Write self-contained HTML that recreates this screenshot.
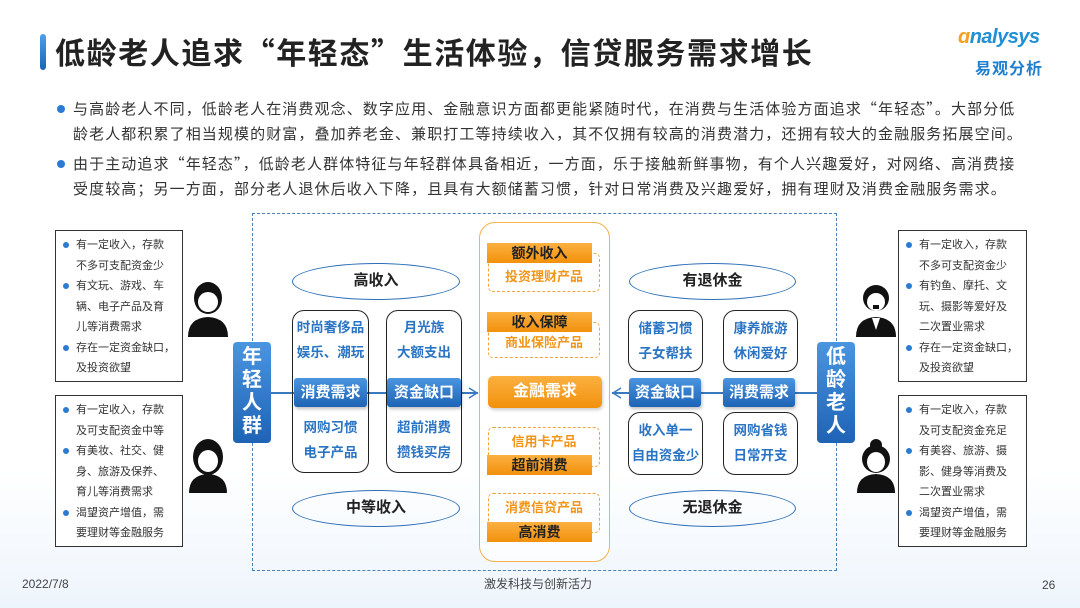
<!DOCTYPE html>
<html><head><meta charset="utf-8"><style>
*{margin:0;padding:0;box-sizing:border-box}
body{width:1080px;height:608px;position:relative;background:#fff;font-family:"Liberation Sans","Noto Sans CJK SC",sans-serif;overflow:hidden;color:#333}
.a{position:absolute}
.bul{position:absolute;left:73px;font-size:15px;line-height:25px;color:#333;font-family:"Noto Sans CJK SC",sans-serif;letter-spacing:1.1px;white-space:nowrap}
.dot{position:absolute;width:8px;height:8px;border-radius:50%;background:#2b7bd3}
.tb{position:absolute;border:1.5px solid #333;background:#fff;font-size:11px;line-height:20.5px;padding:4px 6px 0 20px;color:#333}
.tb p{position:relative}
.tb p.b:before{content:"";position:absolute;left:-13px;top:7px;width:6px;height:6px;border-radius:50%;background:#2b7bd3}
.ell{position:absolute;border:1.5px solid #2e6fb8;border-radius:50%;text-align:center;font-size:15px;font-weight:bold;color:#222}
.rb{position:absolute;border:1.5px solid #222;border-radius:12px;text-align:center;font-size:13.5px;font-weight:bold;color:#2a74c4;line-height:25px}
.bl{position:absolute;background:linear-gradient(#4a95e0,#1e63b5);color:#fff;font-weight:bold;font-size:15px;text-align:center;border-radius:3px;box-shadow:1px 2px 3px rgba(0,0,0,.25)}
.vl{position:absolute;background:linear-gradient(#4a95e0,#1e63b5);color:#fff;font-weight:bold;font-size:20px;line-height:23px;text-align:center;border-radius:4px;padding-top:4px}
.ob{position:absolute;background:linear-gradient(#fbb040,#f2910c);color:#222;font-weight:bold;font-size:14px;text-align:center}
.od{position:absolute;border:1px dashed #f2a33a;border-radius:5px;color:#f2961a;font-size:13px;font-weight:bold;text-align:center}
</style></head><body>
<div class="a" style="left:0;top:470px;width:1080px;height:138px;background:linear-gradient(rgba(225,238,250,0),rgba(225,238,250,.6))"></div>
<div class="a" style="left:40px;top:34px;width:6px;height:36px;background:linear-gradient(#4aa0ee,#1e63b5);border-radius:3px"></div>
<div class="a" style="left:55px;top:32px;font-size:30px;font-weight:bold;color:#222;line-height:38px;font-family:'Noto Sans CJK SC',sans-serif;letter-spacing:1.6px;white-space:nowrap">低龄老人追求“年轻态”生活体验，信贷服务需求增长</div>
<div class="a" style="left:958px;top:26px;font-size:20px;font-style:italic;color:#1f8fd6;font-weight:bold;letter-spacing:-0.5px"><span style="color:#f5a020">ɑ</span>nalysys</div>
<div class="a" style="left:975px;top:55px;font-size:16px;font-weight:bold;color:#1f7fd0;letter-spacing:1px">易观分析</div>

<div class="dot" style="left:57px;top:105px"></div>
<div class="bul" style="top:96px">与高龄老人不同，低龄老人在消费观念、数字应用、金融意识方面都更能紧随时代，在消费与生活体验方面追求“年轻态”。大部分低<br>龄老人都积累了相当规模的财富，叠加养老金、兼职打工等持续收入，其不仅拥有较高的消费潜力，还拥有较大的金融服务拓展空间。</div>
<div class="dot" style="left:57px;top:160px"></div>
<div class="bul" style="top:151px">由于主动追求“年轻态”，低龄老人群体特征与年轻群体具备相近，一方面，乐于接触新鲜事物，有个人兴趣爱好，对网络、高消费接<br>受度较高；另一方面，部分老人退休后收入下降，且具有大额储蓄习惯，针对日常消费及兴趣爱好，拥有理财及消费金融服务需求。</div>

<div class="a" style="left:252px;top:213px;width:585px;height:358px;border:1.2px dashed #4b7fb8"></div>

<div class="tb" style="left:55px;top:230px;width:128px;height:152px"><p class="b">有一定收入，存款</p><p>不多可支配资金少</p><p class="b">有文玩、游戏、车</p><p>辆、电子产品及育</p><p>儿等消费需求</p><p class="b">存在一定资金缺口，</p><p>及投资欲望</p></div>
<div class="tb" style="left:55px;top:395px;width:128px;height:152px"><p class="b">有一定收入，存款</p><p>及可支配资金中等</p><p class="b">有美妆、社交、健</p><p>身、旅游及保养、</p><p>育儿等消费需求</p><p class="b">渴望资产增值，需</p><p>要理财等金融服务</p></div>
<div class="tb" style="left:898px;top:230px;width:129px;height:152px"><p class="b">有一定收入，存款</p><p>不多可支配资金少</p><p class="b">有钓鱼、摩托、文</p><p>玩、摄影等爱好及</p><p>二次置业需求</p><p class="b">存在一定资金缺口，</p><p>及投资欲望</p></div>
<div class="tb" style="left:898px;top:395px;width:129px;height:152px"><p class="b">有一定收入，存款</p><p>及可支配资金充足</p><p class="b">有美容、旅游、摄</p><p>影、健身等消费及</p><p>二次置业需求</p><p class="b">渴望资产增值，需</p><p>要理财等金融服务</p></div>

<svg class="a" style="left:186px;top:280px" width="46" height="58"><ellipse cx="22" cy="18" rx="14" ry="16" fill="#111"/><ellipse cx="22" cy="22" rx="10" ry="10" fill="#fff"/><path d="M2 57 Q2 38 22 37 Q42 38 42 57Z" fill="#111"/></svg>
<svg class="a" style="left:186px;top:437px" width="46" height="58"><ellipse cx="22" cy="20" rx="15" ry="18" fill="#111"/><ellipse cx="22" cy="24" rx="10" ry="11" fill="#fff"/><path d="M12 14 Q22 8 32 18 L32 12 Z" fill="#111"/><path d="M3 56 Q3 38 22 37 Q41 38 41 56Z" fill="#111"/></svg>
<svg class="a" style="left:854px;top:280px" width="46" height="58"><circle cx="22" cy="18" r="13" fill="#111"/><ellipse cx="22" cy="22" rx="9" ry="9" fill="#fff"/><rect x="19" y="25" width="6" height="4" fill="#111"/><path d="M2 57 Q2 38 22 37 Q42 38 42 57Z" fill="#111"/><path d="M18 38 L22 50 L26 38Z" fill="#fff"/></svg>
<svg class="a" style="left:854px;top:437px" width="46" height="58"><circle cx="22" cy="8" r="6" fill="#111"/><ellipse cx="22" cy="22" rx="14" ry="14" fill="#111"/><ellipse cx="22" cy="25" rx="9" ry="10" fill="#fff"/><path d="M3 56 Q3 38 22 37 Q41 38 41 56Z" fill="#111"/></svg>

<div class="a" style="left:271px;top:392px;width:207px;height:1.5px;background:#3a78c0"></div>
<svg class="a" style="left:466px;top:386px" width="14" height="14"><path d="M3 2 L11 7 L3 12" fill="none" stroke="#3a78c0" stroke-width="1.5"/></svg>
<div class="a" style="left:612px;top:392px;width:206px;height:1.5px;background:#3a78c0"></div>
<svg class="a" style="left:610px;top:386px" width="14" height="14"><path d="M11 2 L3 7 L11 12" fill="none" stroke="#3a78c0" stroke-width="1.5"/></svg>

<div class="vl" style="left:233px;top:342px;width:38px;height:101px">年<br>轻<br>人<br>群</div>
<div class="vl" style="left:817px;top:342px;width:38px;height:101px">低<br>龄<br>老<br>人</div>

<div class="ell" style="left:292px;top:263px;width:168px;height:37px;line-height:34px">高收入</div>
<div class="ell" style="left:292px;top:490px;width:168px;height:37px;line-height:34px">中等收入</div>
<div class="ell" style="left:629px;top:263px;width:167px;height:37px;line-height:34px">有退休金</div>
<div class="ell" style="left:629px;top:490px;width:167px;height:37px;line-height:34px">无退休金</div>

<div class="rb" style="left:292px;top:310px;width:77px;height:163px;padding-top:4px">时尚奢侈品<br>娱乐、潮玩<br><br><br>网购习惯<br>电子产品</div>
<div class="rb" style="left:386px;top:310px;width:76px;height:163px;padding-top:4px">月光族<br>大额支出<br><br><br>超前消费<br>攒钱买房</div>
<div class="rb" style="left:628px;top:310px;width:75px;height:62px;padding-top:5px">储蓄习惯<br>子女帮扶</div>
<div class="rb" style="left:723px;top:310px;width:75px;height:62px;padding-top:5px">康养旅游<br>休闲爱好</div>
<div class="rb" style="left:628px;top:412px;width:75px;height:63px;padding-top:5px">收入单一<br>自由资金少</div>
<div class="rb" style="left:723px;top:412px;width:75px;height:63px;padding-top:5px">网购省钱<br>日常开支</div>

<div class="bl" style="left:294px;top:378px;width:73px;height:29px;line-height:29px">消费需求</div>
<div class="bl" style="left:387px;top:378px;width:74px;height:29px;line-height:29px">资金缺口</div>
<div class="bl" style="left:629px;top:378px;width:72px;height:29px;line-height:29px">资金缺口</div>
<div class="bl" style="left:723px;top:378px;width:72px;height:29px;line-height:29px">消费需求</div>

<div class="a" style="left:479px;top:222px;width:131px;height:340px;border:1.5px solid #f5b14a;border-radius:16px;background:rgba(255,255,255,.6)"></div>
<div class="od" style="left:488px;top:253px;width:112px;height:39px;padding-top:12px">投资理财产品</div>
<div class="ob" style="left:487px;top:243px;width:105px;height:20px;line-height:20px">额外收入</div>
<div class="od" style="left:488px;top:322px;width:112px;height:36px;padding-top:9px">商业保险产品</div>
<div class="ob" style="left:487px;top:312px;width:105px;height:20px;line-height:20px">收入保障</div>
<div class="ob" style="left:488px;top:376px;width:114px;height:32px;line-height:32px;border-radius:5px;color:#fff;font-size:16px;box-shadow:1px 2px 3px rgba(0,0,0,.2)">金融需求</div>
<div class="od" style="left:488px;top:427px;width:112px;height:40px;padding-top:3px">信用卡产品</div>
<div class="ob" style="left:487px;top:455px;width:105px;height:20px;line-height:20px">超前消费</div>
<div class="od" style="left:488px;top:493px;width:112px;height:40px;padding-top:3px">消费信贷产品</div>
<div class="ob" style="left:487px;top:522px;width:105px;height:20px;line-height:20px">高消费</div>

<div class="a" style="left:22px;top:577px;font-size:12px;color:#444">2022/7/8</div>
<div class="a" style="left:484px;top:575px;font-size:12px;color:#444">激发科技与创新活力</div>
<div class="a" style="left:1042px;top:578px;font-size:12px;color:#444">26</div>
</body></html>
